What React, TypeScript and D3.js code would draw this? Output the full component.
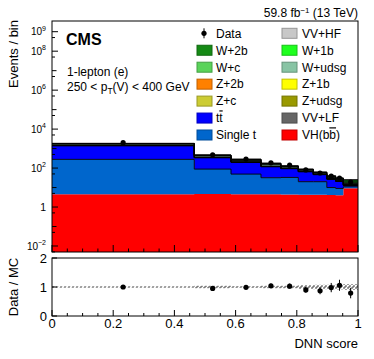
import React from 'react';
import * as d3 from 'd3';

// ---------- data ----------
const binEdges = [0, 0.465, 0.585, 0.683, 0.748, 0.805, 0.854, 0.898, 0.927, 0.952, 1.0];

const vhbb = [4.5, 4.6, 4.5, 4.5, 4.4, 4.3, 4.3, 4.2, 4.0, 9.1];
const singleTop = [275, 84, 44.5, 27.5, 28.6, 15.7, 15.7, 5.8, 5.0, 1.9];
const ttbar = [1120, 251, 147, 85, 60, 45, 26, 17, 12, 2];
const vvLF = [15, 4, 3, 2, 1.2, 0.7, 0.5, 0.3, 0.2, 0.2];
const zUdsg = [20, 5, 3, 2, 1.2, 0.7, 0.5, 0.3, 0.2, 0.2];
const zC = [8, 2, 1.5, 1, 0.6, 0.4, 0.3, 0.2, 0.1, 0.1];
const z1b = [5, 1.5, 1, 0.8, 0.5, 0.3, 0.2, 0.2, 0.2, 0.2];
const z2b = [3, 1, 0.8, 0.6, 0.5, 0.4, 0.3, 0.3, 0.3, 0.5];
const wUdsg = [220, 60, 40, 27, 15, 9, 6, 4, 3, 2];
const wC = [100, 30, 20, 14, 8, 5, 3.5, 2.5, 1.8, 1.5];
const w1b = [40, 12, 9, 6, 4, 2.5, 2, 1.8, 1.5, 1.8];
const w2b = [30, 12, 9, 6, 5, 3.5, 2.5, 3, 2.5, 5];
const vvHF = [9, 3, 2, 1.5, 1, 0.6, 0.5, 0.4, 0.3, 0.5];

const dataCounts = [2000, 480, 290, 185, 140, 80, 56, 39, 31, 19];
const dataErr = [45, 22, 17, 14, 12, 9, 7.5, 6, 5.5, 4.4];

const ratioVals = [1.0, 0.95, 0.99, 1.04, 1.03, 0.9, 0.87, 0.98, 1.06, 0.79];
const ratioErr = [0.02, 0.045, 0.06, 0.075, 0.085, 0.1, 0.12, 0.16, 0.19, 0.18];
const mcUnc = [0.01, 0.04, 0.015, 0.04, 0.04, 0.07, 0.08, 0.08, 0.09, 0.1];

const xTickMajor = [0, 0.2, 0.4, 0.6, 0.8, 1];
const xTickLabels = ['0', '0.2', '0.4', '0.6', '0.8', '1'];
const yLogLabelExps = [9, 8, 6, 4, 2, 0, -2];
const ratioTicks = [0, 1, 2];

// stack, bottom to top
const layers = [
  { name: 'VH(bb)', values: vhbb, color: '#ff0000', outline: false },
  { name: 'Single t', values: singleTop, color: '#0066cc', outline: true },
  { name: 'tt', values: ttbar, color: '#0000ff', outline: true },
  { name: 'VV+LF', values: vvLF, color: '#666666', outline: true },
  { name: 'Z+udsg', values: zUdsg, color: '#999900', outline: true },
  { name: 'Z+c', values: zC, color: '#cccc33', outline: true },
  { name: 'Z+1b', values: z1b, color: '#ffff00', outline: true },
  { name: 'Z+2b', values: z2b, color: '#ff8000', outline: true },
  { name: 'W+udsg', values: wUdsg, color: '#88c4a4', outline: true },
  { name: 'W+c', values: wC, color: '#5ad35a', outline: true },
  { name: 'W+1b', values: w1b, color: '#1eff1e', outline: true },
  { name: 'W+2b', values: w2b, color: '#158a15', outline: true },
  { name: 'VV+HF', values: vvHF, color: '#c8c8c8', outline: true },
];

// legend rows (left, right)
const legendRows = [
  ['Data', 'VV+HF'],
  ['W+2b', 'W+1b'],
  ['W+c', 'W+udsg'],
  ['Z+2b', 'Z+1b'],
  ['Z+c', 'Z+udsg'],
  ['tt', 'VV+LF'],
  ['Single t', 'VH(bb)'],
];

const FONT = "'Liberation Sans', Arial, Helvetica, sans-serif";

export default function App() {
  const W = 374, H = 359;
  const x = d3.scaleLinear().domain([0, 1]).range([52, 358]);
  const y = d3.scaleLog().domain([Math.pow(10, -2.308), Math.pow(10, 9.549)]).range([252, 21]);
  const yr = d3.scaleLinear().domain([0, 2]).range([316, 258]);
  const nb = binEdges.length - 1;
  const floor = y.domain()[0];

  // cumulative
  const cum: number[][] = [];
  let base = new Array(nb).fill(0);
  layers.forEach((l) => {
    const top = base.map((b, i) => b + l.values[i]);
    cum.push(top);
    base = top;
  });

  const stepPts = (arr: number[]) => {
    const pts = binEdges.slice(0, nb).map((e, i) => ({ e, i }));
    pts.push({ e: binEdges[nb], i: nb - 1 });
    return pts;
  };

  const areas = layers.map((l, li) => {
    const lo = li === 0 ? null : cum[li - 1];
    const hi = cum[li];
    const area = d3
      .area<{ e: number; i: number }>()
      .x((d) => x(d.e))
      .y0((d) => (lo ? y(lo[d.i]) : y(floor)))
      .y1((d) => y(hi[d.i]))
      .curve(d3.curveStepAfter);
    const line = d3
      .line<{ e: number; i: number }>()
      .x((d) => x(d.e))
      .y((d) => y(hi[d.i]))
      .curve(d3.curveStepAfter);
    return { area: area(stepPts(hi)) || '', line: line(stepPts(hi)) || '', l };
  });

  const centers = binEdges.slice(0, nb).map((e, i) => (e + binEdges[i + 1]) / 2);

  const bandArea = d3
    .area<{ e: number; i: number }>()
    .x((d) => x(d.e))
    .y0((d) => yr(1 - mcUnc[d.i]))
    .y1((d) => yr(1 + mcUnc[d.i]))
    .curve(d3.curveStepAfter)(stepPts(mcUnc)) || '';

  // ticks
  const xMinor = d3.range(0, 1.0001, 0.05);
  const decades = d3.range(-2, 10);
  const fives = d3.range(-3, 10).map((n) => 5 * Math.pow(10, n)).filter((v) => v > floor && v < y.domain()[1]);

  const colorOf = (name: string) => layers.find((l) => l.name === name)?.color || '#000';

  const renderLabel = (name: string) => {
    if (name === 'tt') {
      return (
        <>
          <tspan>t</tspan>
          <tspan style={{ textDecoration: 'overline' }}>t</tspan>
        </>
      );
    }
    if (name === 'VH(bb)') {
      return (
        <>
          <tspan>VH(b</tspan>
          <tspan style={{ textDecoration: 'overline' }}>b</tspan>
          <tspan>)</tspan>
        </>
      );
    }
    return name;
  };

  const legendX = [197, 282];
  const legendTextX = [216, 302];
  const legendRowY = (r: number) => 33.3 + r * 16.95;

  return (
    <svg
      width={W}
      height={H}
      style={{ position: 'absolute', left: 0, top: 0, background: '#fff' }}
      fontFamily={FONT}
    >
      <defs>
        <pattern id="hatch" patternUnits="userSpaceOnUse" width="4" height="4">
          <path d="M0,0 L4,4 M4,0 L0,4" stroke="#777" strokeWidth="0.7" />
        </pattern>
        <clipPath id="mainClip">
          <rect x={52} y={21} width={306} height={231} />
        </clipPath>
      </defs>

      {/* main panel stack */}
      <g clipPath="url(#mainClip)">
        {areas.map((a, i) => (
          <path key={'a' + i} d={a.area} fill={a.l.color} stroke="none" />
        ))}
        {areas.map((a, i) =>
          a.l.outline ? (
            <path key={'l' + i} d={a.line} fill="none" stroke="#000" strokeWidth={0.9} />
          ) : null
        )}
      </g>

      {/* data points main */}
      {centers.map((c, i) => (
        <g key={'d' + i}>
          <line
            x1={x(c)}
            x2={x(c)}
            y1={y(dataCounts[i] - dataErr[i])}
            y2={y(dataCounts[i] + dataErr[i])}
            stroke="#000"
            strokeWidth={1}
          />
          <circle cx={x(c)} cy={y(dataCounts[i])} r={2.6} fill="#000" />
        </g>
      ))}

      {/* main frame */}
      <rect x={52} y={21} width={306} height={231} fill="none" stroke="#000" strokeWidth={1} />

      {/* main x ticks */}
      {xMinor.map((t, i) => {
        const major = xTickMajor.some((m) => Math.abs(m - t) < 1e-6);
        return (
          <line key={'mx' + i} x1={x(t)} x2={x(t)} y1={252} y2={252 - (major ? 7 : 3.5)} stroke="#000" strokeWidth={1} />
        );
      })}

      {/* main y ticks */}
      {decades.map((n) => {
        const labeled = yLogLabelExps.includes(n);
        const yy = y(Math.pow(10, n));
        return <line key={'yd' + n} x1={52} x2={52 + (labeled ? 6 : 4.5)} y1={yy} y2={yy} stroke="#000" strokeWidth={1} />;
      })}
      {fives.map((v, i) => {
        const yy = y(v);
        return <line key={'y5' + i} x1={52} x2={55} y1={yy} y2={yy} stroke="#000" strokeWidth={1} />;
      })}
      {yLogLabelExps.map((n) => {
        const yy = y(Math.pow(10, n));
        if (n === 0) {
          return (
            <text key={'yl' + n} x={46} y={yy + 3.6} fontSize={10.5} textAnchor="end">
              1
            </text>
          );
        }
        return (
          <text key={'yl' + n} x={46} y={yy + 3.6} fontSize={10} textAnchor="end">
            <tspan>10</tspan>
            <tspan fontSize={7} dy={-4.5}>
              {n < 0 ? '\u2212' + Math.abs(n) : String(n)}
            </tspan>
          </text>
        );
      })}

      {/* y axis title */}
      <text transform="translate(18,20) rotate(-90)" fontSize={13} textAnchor="end">
        Events / bin
      </text>

      {/* CMS labels */}
      <text x={66} y={45} fontSize={16} fontWeight="bold">
        CMS
      </text>
      <text x={67} y={76} fontSize={12}>
        1-lepton (e)
      </text>
      <text x={67} y={91} fontSize={12}>
        <tspan>250 &lt; p</tspan>
        <tspan fontSize={8.5} dy={3}>T</tspan>
        <tspan dy={-3}>(V) &lt; 400 GeV</tspan>
      </text>
      <text x={358} y={17} fontSize={12} textAnchor="end">
        <tspan>59.8 fb</tspan>
        <tspan fontSize={8} dy={-4.5}>
          {'\u22121'}
        </tspan>
        <tspan dy={4.5}> (13 TeV)</tspan>
      </text>

      {/* legend */}
      {legendRows.map((row, r) =>
        row.map((name, c) => {
          const cy = legendRowY(r);
          if (name === 'Data') {
            const mx = legendX[c] + 7;
            return (
              <g key={'lg' + r + c}>
                <line x1={mx} x2={mx} y1={cy - 5} y2={cy + 5} stroke="#000" strokeWidth={1} />
                <circle cx={mx} cy={cy} r={2.6} fill="#000" />
                <text x={legendTextX[c]} y={cy + 4.3} fontSize={12}>
                  Data
                </text>
              </g>
            );
          }
          const col = colorOf(name);
          const dark = d3.color(col)?.darker(0.8)?.formatHex() || '#000';
          return (
            <g key={'lg' + r + c}>
              <rect x={legendX[c]} y={cy - 5} width={15} height={10} fill={col} stroke={dark} strokeWidth={1} />
              <text x={legendTextX[c]} y={cy + 4.3} fontSize={12}>
                {renderLabel(name)}
              </text>
            </g>
          );
        })
      )}

      {/* ratio panel */}
      <path d={bandArea} fill="url(#hatch)" stroke="none" />
      <line x1={52} x2={358} y1={yr(1)} y2={yr(1)} stroke="#555" strokeWidth={1} strokeDasharray="2,2" />
      {centers.map((c, i) => (
        <g key={'r' + i}>
          <line
            x1={x(c)}
            x2={x(c)}
            y1={yr(ratioVals[i] - ratioErr[i])}
            y2={yr(ratioVals[i] + ratioErr[i])}
            stroke="#000"
            strokeWidth={1}
          />
          <circle cx={x(c)} cy={yr(ratioVals[i])} r={2.6} fill="#000" />
        </g>
      ))}
      <rect x={52} y={258} width={306} height={58} fill="none" stroke="#000" strokeWidth={1} />
      {xMinor.map((t, i) => {
        const major = xTickMajor.some((m) => Math.abs(m - t) < 1e-6);
        return (
          <line key={'rx' + i} x1={x(t)} x2={x(t)} y1={316} y2={316 - (major ? 6 : 3)} stroke="#000" strokeWidth={1} />
        );
      })}
      {ratioTicks.map((t) => (
        <g key={'ry' + t}>
          <line x1={52} x2={57} y1={yr(t)} y2={yr(t)} stroke="#000" strokeWidth={1} />
          <text x={47} y={yr(t) + 4.6} fontSize={13} textAnchor="end">
            {t}
          </text>
        </g>
      ))}
      {xTickMajor.map((t, i) => (
        <text key={'xl' + i} x={x(t)} y={328} fontSize={13} textAnchor="middle">
          {xTickLabels[i]}
        </text>
      ))}
      <text x={358} y={348} fontSize={13} textAnchor="end">
        DNN score
      </text>
      <text transform={`translate(18,${yr(1)}) rotate(-90)`} fontSize={13} textAnchor="middle">
        Data / MC
      </text>
    </svg>
  );
}
